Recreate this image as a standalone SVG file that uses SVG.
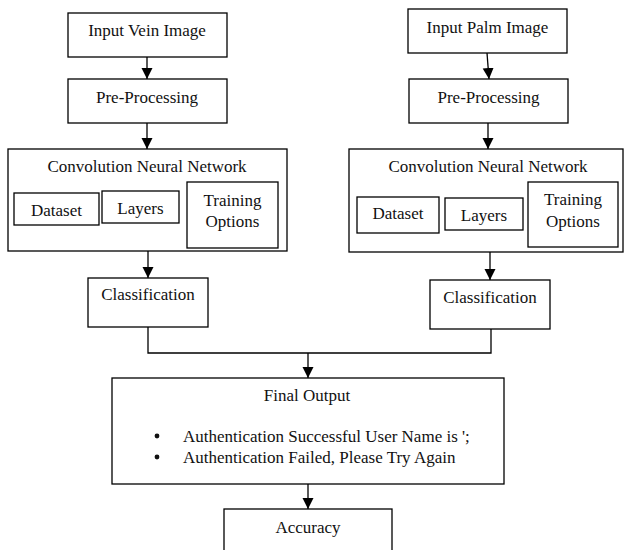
<svg xmlns="http://www.w3.org/2000/svg" width="624" height="550" viewBox="0 0 624 550">
  <defs>
    <marker id="arrow" markerUnits="userSpaceOnUse" markerWidth="11" markerHeight="12" refX="11" refY="5.5" orient="auto">
      <path d="M0,0 L11,5.5 L0,11 Z" fill="#000"/>
    </marker>
    <style>
      .box { fill: #fff; stroke: #000; stroke-width: 1.3; }
      .lbl { font-size: 17px; fill: #111; text-anchor: middle; dominant-baseline: central; }
      .lft { text-anchor: start; }
      .wire { fill: none; stroke: #000; stroke-width: 1.3; }
      .arr { marker-end: url(#arrow); }
    </style>
  </defs>
  <rect width="624" height="550" fill="#fff"/>

  <!-- connectors -->
  <g id="connectors">
    <line class="wire arr" x1="147" y1="57" x2="147" y2="79"/>
    <line class="wire arr" x1="147" y1="123" x2="147" y2="149"/>
    <line class="wire arr" x1="148" y1="251" x2="148" y2="278"/>
    <line class="wire arr" x1="487" y1="53" x2="489" y2="79"/>
    <line class="wire arr" x1="488" y1="123" x2="488" y2="149"/>
    <line class="wire arr" x1="490" y1="252" x2="490" y2="280"/>
    <polyline class="wire" points="148,327 148,353 491,353 491,329"/>
    <line class="wire arr" x1="308" y1="353" x2="308" y2="378"/>
    <line class="wire arr" x1="308" y1="484" x2="308" y2="509"/>
  </g>

  <g font-family="'Liberation Serif', 'Times New Roman', Times, serif">
  <!-- left branch: vein -->
  <g id="input-vein">
    <rect class="box" x="68" y="13" width="159" height="44"/>
    <text class="lbl" x="147" y="30">Input Vein Image</text>
  </g>
  <g id="preprocess-vein">
    <rect class="box" x="68" y="79" width="159" height="44"/>
    <text class="lbl" x="147" y="97">Pre-Processing</text>
  </g>
  <g id="cnn-vein">
    <rect class="box" x="8" y="149" width="279" height="102"/>
    <text class="lbl" x="147" y="166">Convolution Neural Network</text>
  </g>
  <g id="dataset-vein">
    <rect class="box" x="14" y="193" width="85" height="32"/>
    <text class="lbl" x="56.5" y="210">Dataset</text>
  </g>
  <g id="layers-vein">
    <rect class="box" x="102" y="191" width="77" height="32"/>
    <text class="lbl" x="140.5" y="208">Layers</text>
  </g>
  <g id="training-vein">
    <rect class="box" x="187" y="182" width="91" height="66"/>
    <text class="lbl" x="232.5" y="200">Training</text>
    <text class="lbl" x="232.5" y="221">Options</text>
  </g>
  <g id="classification-vein">
    <rect class="box" x="88" y="278" width="120" height="49"/>
    <text class="lbl" x="148" y="294">Classification</text>
  </g>

  <!-- right branch: palm -->
  <g id="input-palm">
    <rect class="box" x="408" y="9" width="159" height="44"/>
    <text class="lbl" x="487.5" y="27">Input Palm Image</text>
  </g>
  <g id="preprocess-palm">
    <rect class="box" x="409" y="79" width="159" height="44"/>
    <text class="lbl" x="488.5" y="97">Pre-Processing</text>
  </g>
  <g id="cnn-palm">
    <rect class="box" x="349" y="149" width="274" height="103"/>
    <text class="lbl" x="488" y="166">Convolution Neural Network</text>
  </g>
  <g id="dataset-palm">
    <rect class="box" x="357" y="197" width="82" height="36"/>
    <text class="lbl" x="398" y="213">Dataset</text>
  </g>
  <g id="layers-palm">
    <rect class="box" x="445" y="198" width="78" height="32"/>
    <text class="lbl" x="484" y="215">Layers</text>
  </g>
  <g id="training-palm">
    <rect class="box" x="528" y="182" width="90" height="65"/>
    <text class="lbl" x="573" y="199">Training</text>
    <text class="lbl" x="573" y="221">Options</text>
  </g>
  <g id="classification-palm">
    <rect class="box" x="430" y="280" width="120" height="49"/>
    <text class="lbl" x="490" y="297">Classification</text>
  </g>

  <!-- merged output -->
  <g id="final-output">
    <rect class="box" x="112" y="378" width="392" height="106"/>
    <text class="lbl" x="307" y="395">Final Output</text>
    <circle cx="157" cy="436" r="2.4" fill="#111"/>
    <text class="lbl lft" x="183" y="436">Authentication Successful User Name is ';</text>
    <circle cx="157" cy="457" r="2.4" fill="#111"/>
    <text class="lbl lft" x="183" y="457">Authentication Failed, Please Try Again</text>
  </g>
  <g id="accuracy">
    <rect class="box" x="224" y="509" width="168" height="50"/>
    <text class="lbl" x="308" y="527">Accuracy</text>
  </g>
  </g>
</svg>
